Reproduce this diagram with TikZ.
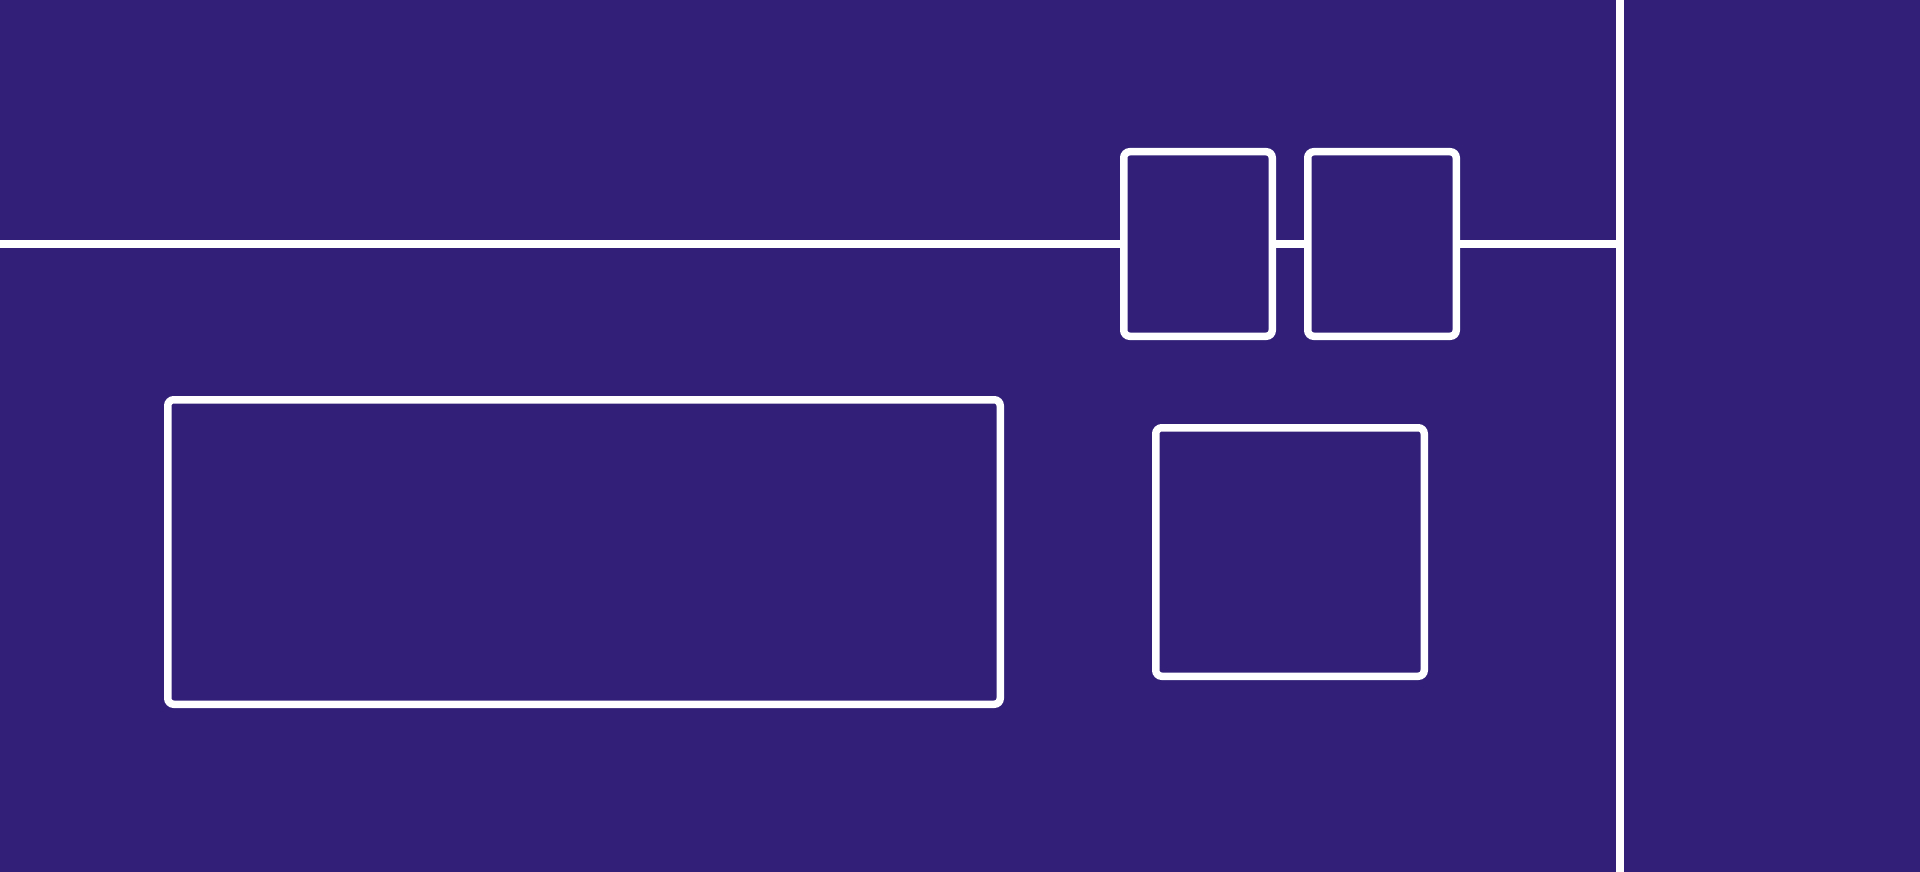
\documentclass[tikz,border=0pt]{standalone}
\definecolor{bgpurple}{RGB}{49,31,120}
\begin{document}
\begin{tikzpicture}[x=1pt,y=-1pt,
  wline/.style={draw=white,line width=7.5pt},
  wbox/.style={draw=white,line width=7.5pt,fill=bgpurple,rounded corners=6pt,inner sep=0pt,shape=rectangle}]
\fill[bgpurple] (0,0) rectangle (1920,872);
\useasboundingbox (0,0) rectangle (1920,872);
% boxes (centre-line coordinates)
\node[wbox,minimum width=148.5pt,minimum height=184.5pt] (b1) at (1198,244) {};
\node[wbox,minimum width=148.5pt,minimum height=184.5pt] (b2) at (1382,244) {};
\node[wbox,minimum width=832.5pt,minimum height=304.5pt] (big) at (584,552) {};
\node[wbox,minimum width=268.5pt,minimum height=248.5pt] (small) at (1290,552) {};
% lines
\coordinate (lstart) at (0,244);
\coordinate (vtop) at (1620,0);
\coordinate (vbot) at (1620,872);
\coordinate (lend) at (1620,244);
\draw[wline] (lstart) -- (b1.west);
\draw[wline] (b1.east) -- (b2.west);
\draw[wline] (b2.east) -- (lend);
\draw[wline] (vtop) -- (vbot);
\end{tikzpicture}
\end{document}
